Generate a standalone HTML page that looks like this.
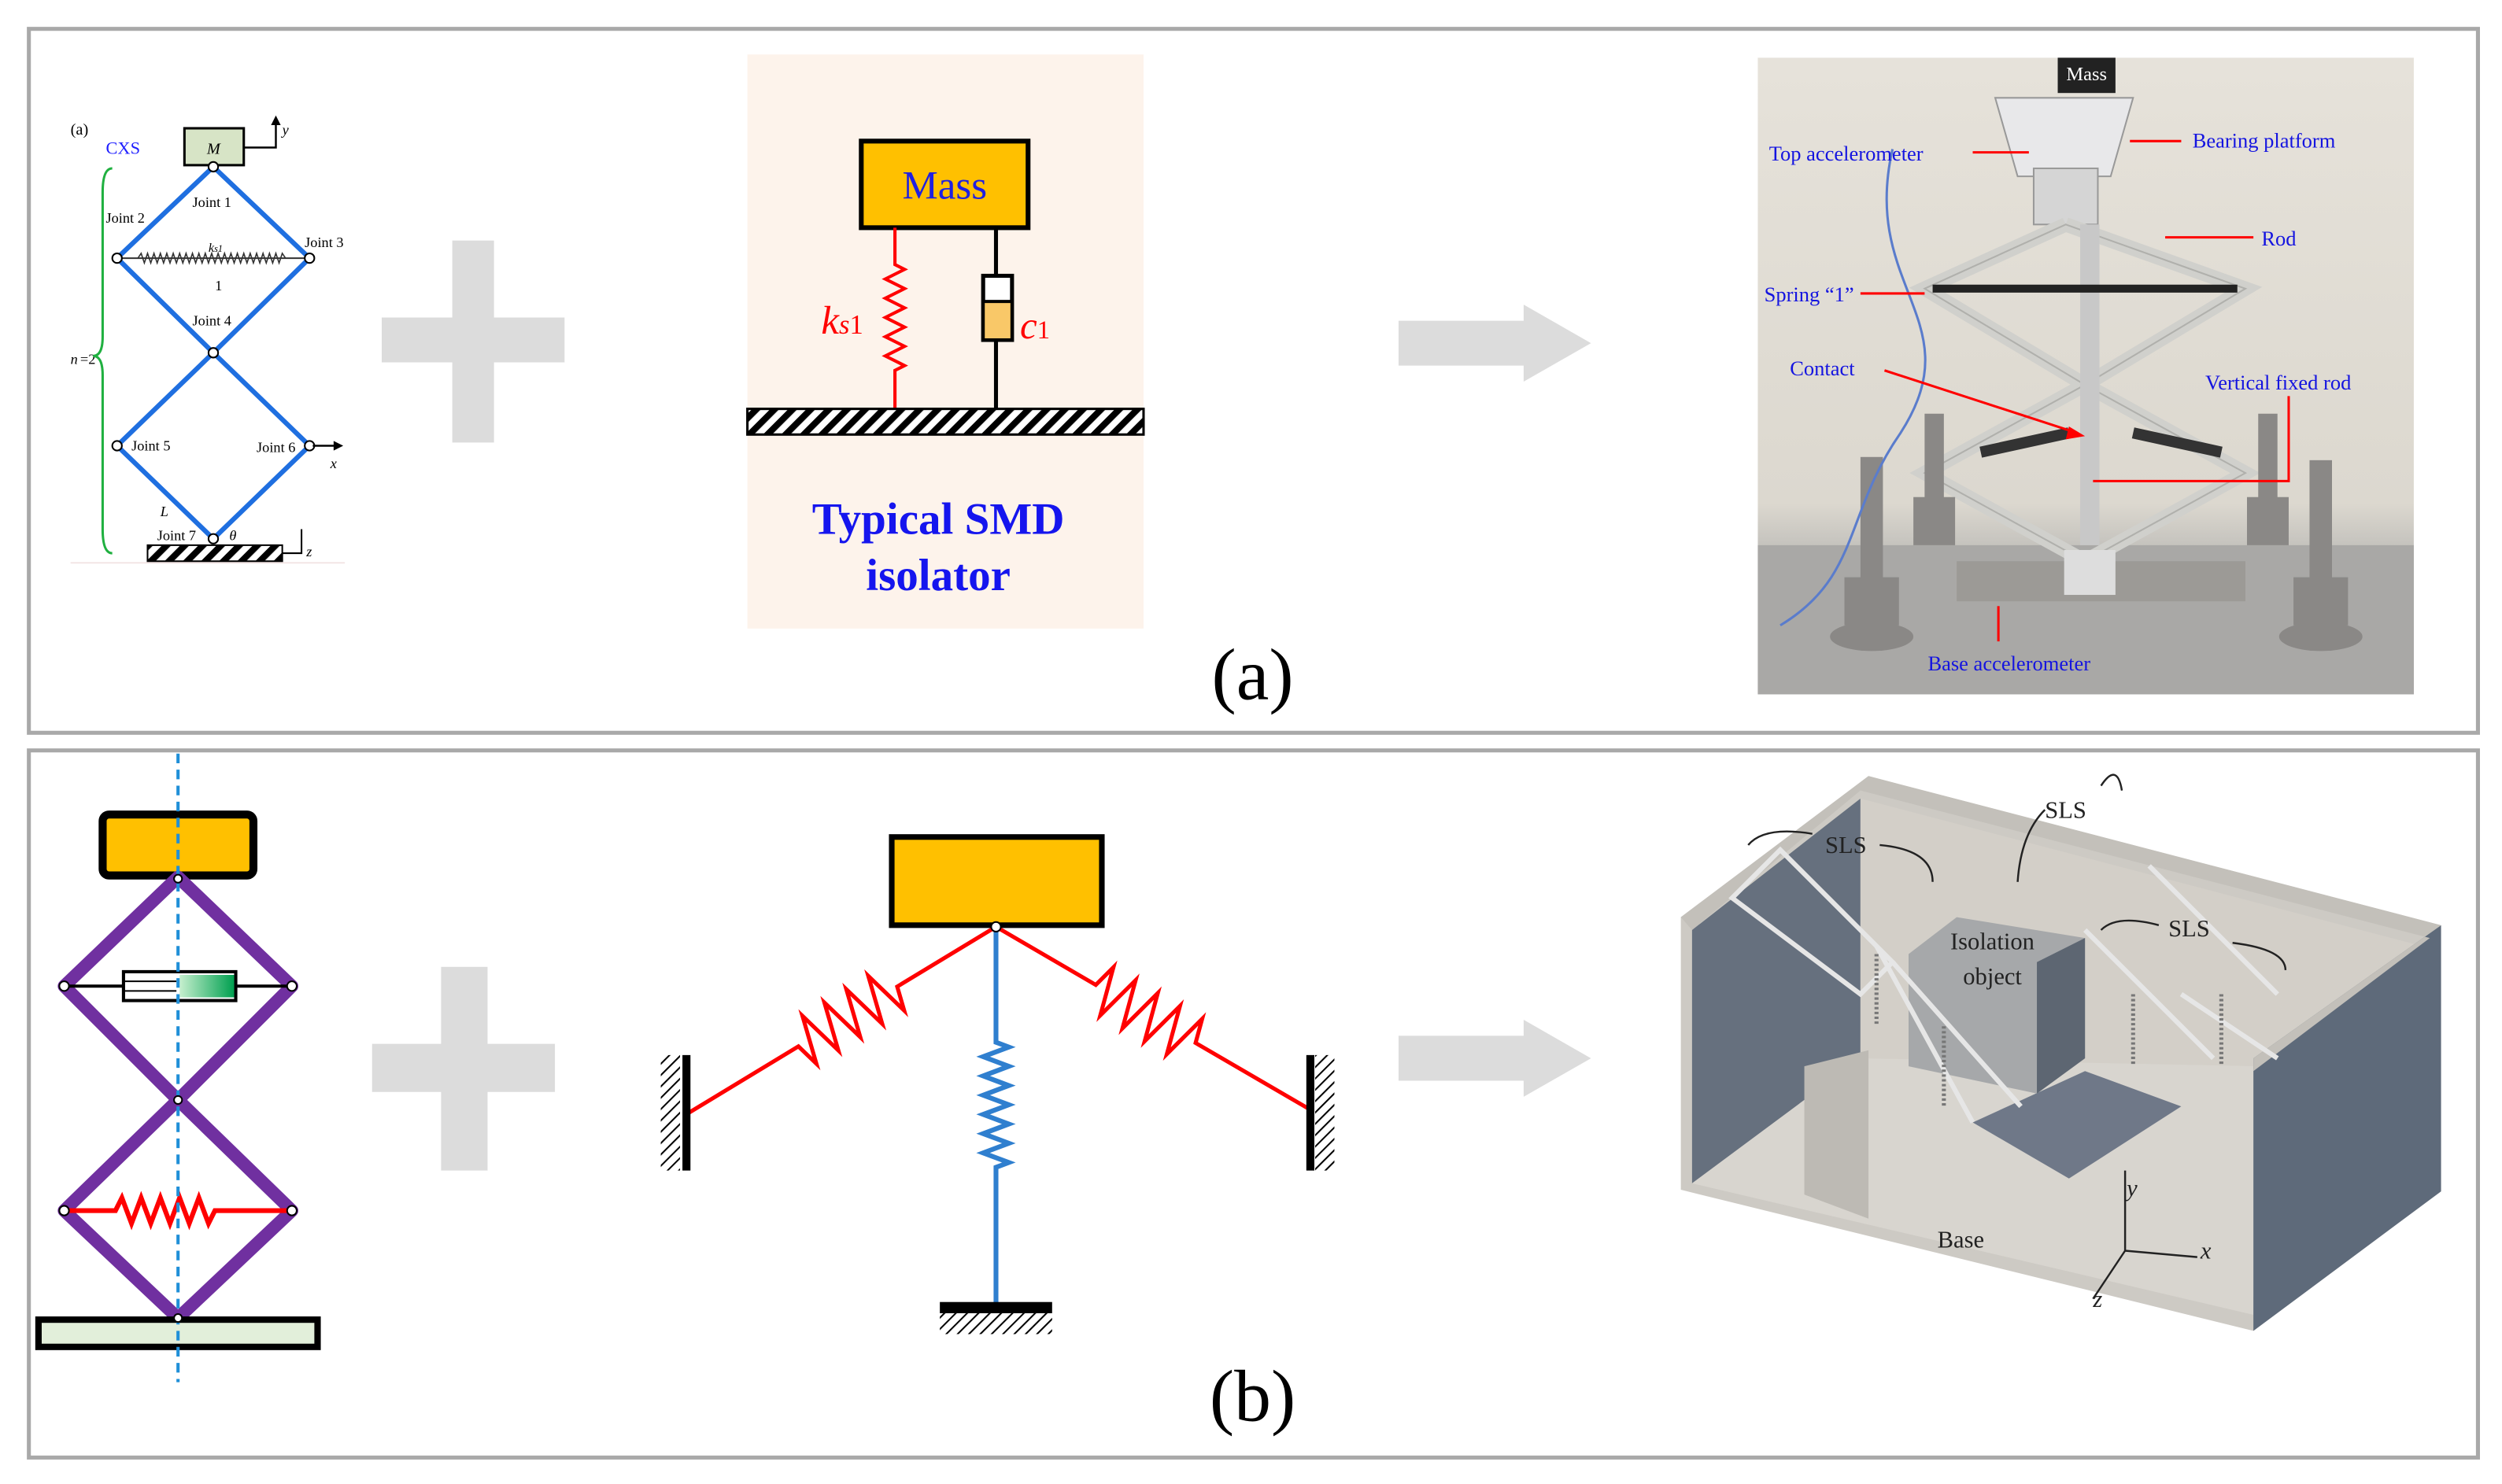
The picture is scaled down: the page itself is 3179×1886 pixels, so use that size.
<!DOCTYPE html>
<html><head><meta charset="utf-8"><style>
html,body{margin:0;padding:0;background:#fff}
svg{display:block}
text{font-family:"Liberation Serif",serif}
</style></head><body>
<svg width="3179" height="1886" viewBox="0 0 1560 925.5" preserveAspectRatio="none" xmlns="http://www.w3.org/2000/svg">
<defs>
<pattern id="hatch" width="8" height="8" patternUnits="userSpaceOnUse" patternTransform="rotate(45)">
<rect width="8" height="8" fill="#fff"/><rect width="4" height="8" fill="#000"/></pattern>
<pattern id="hatch2" width="5" height="5" patternUnits="userSpaceOnUse" patternTransform="rotate(45)">
<rect width="5" height="5" fill="#fff"/><rect width="1" height="5" fill="#000"/></pattern>
<linearGradient id="grn" x1="0" x2="1"><stop offset="0" stop-color="#c6efce"/><stop offset="1" stop-color="#00a050"/></linearGradient>
<linearGradient id="photo" x1="0" y1="0" x2="0" y2="1"><stop offset="0" stop-color="#e6e2da"/><stop offset="0.7" stop-color="#dcd8cf"/><stop offset="0.8" stop-color="#b9b8b5"/><stop offset="1" stop-color="#a5a5a5"/></linearGradient>
</defs>
<rect width="1560" height="925.5" fill="#fff"/>
<rect x="18" y="18" width="1527" height="439" fill="none" stroke="#a9a9a9" stroke-width="2.5"/>
<rect x="18" y="468" width="1527" height="441" fill="none" stroke="#a9a9a9" stroke-width="2.5"/>

<!-- CXS diagram -->
<text x="44" y="84" font-size="10">(a)</text>
<text x="66" y="96" font-size="11" fill="#2020ff">CXS</text>
<rect x="115" y="80" width="37" height="23" fill="#d7e4c6" stroke="#000" stroke-width="1.5"/>
<text x="129" y="96" font-size="10" font-style="italic">M</text>
<path d="M152 92 H172 V74" fill="none" stroke="#000" stroke-width="1.2"/>
<path d="M169 78 L172 72 L175 78Z" fill="#000"/>
<text x="176" y="84" font-size="9" font-style="italic">y</text>
<g fill="none" stroke="#1f6fe0" stroke-width="3">
<path d="M133 104 L73 161 L133 220 L193 161 Z"/>
<path d="M133 220 L73 278 L133 336 L193 278 Z"/>
</g>
<path d="M73 161 H193" stroke="#333" stroke-width="1"/>
<path d="M86 161 l2 -3 l2 6 l2 -6 l2 6 l2 -6 l2 6 l2 -6 l2 6 l2 -6 l2 6 l2 -6 l2 6 l2 -6 l2 6 l2 -6 l2 6 l2 -6 l2 6 l2 -6 l2 6 l2 -6 l2 6 l2 -6 l2 6 l2 -6 l2 6 l2 -6 l2 6 l2 -6 l2 6 l2 -6 l2 6 l2 -6 l2 6 l2 -6 l2 6 l2 -6 l2 6 l2 -6 l2 6 l2 -6 l2 6 l2 -6 l2 6 l2 -6 l2 3" fill="none" stroke="#333" stroke-width="0.8"/>
<g fill="#fff" stroke="#000" stroke-width="1"><circle cx="133" cy="104" r="3"/><circle cx="73" cy="161" r="3"/><circle cx="193" cy="161" r="3"/><circle cx="133" cy="220" r="3"/><circle cx="73" cy="278" r="3"/><circle cx="193" cy="278" r="3"/><circle cx="133" cy="336" r="3"/></g>
<g font-size="9"><text x="120" y="129">Joint 1</text><text x="66" y="139">Joint 2</text><text x="190" y="154">Joint 3</text><text x="130" y="157" font-style="italic" font-size="8">k<tspan font-size="6">s1</tspan></text><text x="134" y="181">1</text><text x="120" y="203">Joint 4</text><text x="82" y="281">Joint 5</text><text x="160" y="282">Joint 6</text><text x="100" y="322" font-style="italic">L</text><text x="98" y="337">Joint 7</text><text x="143" y="337" font-style="italic">θ</text><text x="44" y="227" font-style="italic">n</text><text x="50" y="227">=2</text><text x="206" y="292" font-style="italic">x</text><text x="191" y="347" font-style="italic">z</text></g>
<path d="M195 278 H212" stroke="#000" stroke-width="1.2"/><path d="M208 275 L214 278 L208 281Z"/>
<rect x="92" y="340" width="84" height="10" fill="url(#hatch)" stroke="#000"/>
<path d="M176 345 H188 V330" stroke="#000" fill="none"/>
<path d="M70 105 Q64 105 64 120 V210 Q64 222 58 222 Q64 222 64 234 V330 Q64 345 70 345" fill="none" stroke="#20b040" stroke-width="1.5"/>
<path d="M44 351 H215" stroke="#f0e0e0" stroke-width="0.8"/>

<!-- plus top -->
<g fill="#dcdcdc"><rect x="282" y="150" width="26" height="126"/><rect x="238" y="198" width="114" height="28"/></g>

<!-- SMD -->
<rect x="466" y="34" width="247" height="358" fill="#fdf3eb"/>
<rect x="537" y="88" width="104" height="54" fill="#ffc000" stroke="#000" stroke-width="3"/>
<text x="589" y="124" font-size="25" fill="#2020e0" text-anchor="middle">Mass</text>
<path d="M558 142 V165 l6 3 l-12 6 l12 6 l-12 6 l12 6 l-12 6 l12 6 l-12 6 l12 6 l-12 6 l12 6 l-6 3 V255" fill="none" stroke="#ff0000" stroke-width="2"/>
<path d="M621 142 V255" stroke="#000" stroke-width="2.5"/>
<rect x="613" y="172" width="18" height="40" fill="#fff" stroke="#000" stroke-width="2.5"/>
<rect x="614" y="188" width="16" height="23" fill="#f9c868"/>
<path d="M613 188 H631" stroke="#000" stroke-width="2"/>
<rect x="466" y="255" width="247" height="16" fill="url(#hatch)" stroke="#000" stroke-width="1.5"/>
<text x="512" y="208" font-size="25" fill="#ff0000" font-style="italic">k<tspan font-size="17">s</tspan><tspan font-size="17" font-style="normal">1</tspan></text>
<text x="636" y="211" font-size="24" fill="#ff0000" font-style="italic">c<tspan font-size="16" font-style="normal">1</tspan></text>
<text x="585" y="333" font-size="28" font-weight="bold" fill="#1515ee" text-anchor="middle">Typical SMD</text>
<text x="585" y="368" font-size="28" font-weight="bold" fill="#1515ee" text-anchor="middle">isolator</text>

<!-- arrows -->
<path d="M872 200 H950 V190 L992 214 L950 238 V228 H872Z" fill="#dcdcdc"/>
<path d="M872 646 H950 V636 L992 660 L950 684 V674 H872Z" fill="#dcdcdc"/>
<text x="781" y="436" font-size="46" text-anchor="middle">(a)</text>
<text x="781" y="886" font-size="46" text-anchor="middle">(b)</text>

<!-- photo -->
<rect x="1096" y="36" width="409" height="397" fill="url(#photo)"/>
<rect x="1096" y="340" width="409" height="93" fill="#a9a8a6"/>
<rect x="1283" y="36" width="36" height="22" fill="#222"/>
<text x="1301" y="50" font-size="12" fill="#fff" text-anchor="middle">Mass</text>
<path d="M1244 61 H1330 L1316 110 H1258Z" fill="#e8e8ea" stroke="#999"/>
<rect x="1268" y="105" width="40" height="35" fill="#d5d5d5" stroke="#999"/>
<g stroke="#d0d0cc" stroke-width="9" fill="none"><path d="M1288 140 L1200 180 L1300 240 L1200 295 L1300 350"/><path d="M1288 140 L1400 180 L1300 240 L1400 295 L1300 350"/></g>
<g stroke="#b0b0ac" stroke-width="1" fill="none"><path d="M1288 140 L1200 180 L1300 240 L1200 295 L1300 350"/><path d="M1288 140 L1400 180 L1300 240 L1400 295 L1300 350"/></g>
<rect x="1297" y="140" width="12" height="200" fill="#c8c8c8"/>
<path d="M1205 180 H1395" stroke="#222" stroke-width="5"/>
<path d="M1235 282 L1290 270 M1330 270 L1385 282" stroke="#333" stroke-width="7"/>
<g fill="#8a8886"><rect x="1160" y="285" width="14" height="95"/><rect x="1150" y="360" width="34" height="30"/><ellipse cx="1167" cy="397" rx="26" ry="9"/><rect x="1200" y="258" width="12" height="80"/><rect x="1193" y="310" width="26" height="30"/><rect x="1408" y="258" width="12" height="80"/><rect x="1401" y="310" width="26" height="30"/><rect x="1440" y="287" width="14" height="95"/><rect x="1430" y="360" width="34" height="30"/><ellipse cx="1447" cy="397" rx="26" ry="9"/></g>
<rect x="1220" y="350" width="180" height="25" fill="#9c9a96"/>
<rect x="1287" y="343" width="32" height="28" fill="#ddd"/>
<path d="M1180 93 C1160 180 1230 200 1185 270 C1150 320 1160 360 1110 390" fill="none" stroke="#5a7ccc" stroke-width="1.5"/>
<g font-size="13" fill="#1414e0"><text x="1103" y="100">Top accelerometer</text><text x="1367" y="92">Bearing platform</text><text x="1410" y="153">Rod</text><text x="1100" y="188">Spring “1”</text><text x="1116" y="234">Contact</text><text x="1375" y="243">Vertical fixed rod</text><text x="1202" y="418">Base accelerometer</text></g>
<g stroke="#ff0000" stroke-width="1.5" fill="none"><path d="M1230 95 H1265"/><path d="M1328 88 H1360"/><path d="M1350 148 H1405"/><path d="M1160 183 H1200"/><path d="M1175 231 L1295 270"/><path d="M1427 247 V300 H1305"/><path d="M1246 400 V378"/></g>
<path d="M1290 266 L1300 272 L1288 274Z" fill="#f00"/>

<!-- bottom-left scissor -->
<rect x="64" y="508" width="94" height="38" rx="4" fill="#ffc000" stroke="#000" stroke-width="5"/>
<g fill="none" stroke="#7030a0" stroke-width="8" stroke-linejoin="round"><path d="M111 547 L40 615 L111 686 L182 615Z"/><path d="M111 686 L40 755 L111 822 L182 755Z"/></g>
<path d="M40 615 H182" stroke="#000" stroke-width="2"/>
<rect x="77" y="606" width="70" height="18" fill="#fff" stroke="#000" stroke-width="2"/>
<rect x="112" y="608" width="34" height="14" fill="url(#grn)"/>
<path d="M77 612 H110 M77 618 H110" stroke="#000" stroke-width="1"/>
<path d="M42 755 H72 l4 -8 l6 16 l6 -16 l6 16 l6 -16 l6 16 l6 -16 l6 16 l6 -16 l6 16 l4 -8 H180" fill="none" stroke="#ff0000" stroke-width="3"/>
<rect x="24" y="823" width="174" height="17" fill="#e2efda" stroke="#000" stroke-width="4"/>
<path d="M111 470 V862" stroke="#1f8fd8" stroke-width="2" stroke-dasharray="6,4"/>
<g fill="#fff" stroke="#000" stroke-width="1"><circle cx="111" cy="548" r="2.5"/><circle cx="40" cy="615" r="3"/><circle cx="182" cy="615" r="3"/><circle cx="111" cy="686" r="2.5"/><circle cx="40" cy="755" r="3"/><circle cx="182" cy="755" r="3"/><circle cx="111" cy="822" r="2.5"/></g>

<!-- plus bottom -->
<g fill="#dcdcdc"><rect x="275" y="603" width="29" height="127"/><rect x="232" y="651" width="114" height="30"/></g>

<!-- spring network -->
<rect x="556" y="522" width="131" height="55" fill="#ffc000" stroke="#000" stroke-width="3.5"/>
<path d="M621 578 V650 l8 3 l-16 6 l16 6 l-16 6 l16 6 l-16 6 l16 6 l-16 6 l16 6 l-16 6 l16 6 l-16 6 l16 6 l-8 3 V815" fill="none" stroke="#2f7fcf" stroke-width="3"/>
<g transform="translate(621,578) rotate(148.8)" fill="none" stroke="#ff0000" stroke-width="2.5">
<path d="M0 0 H72 L76 -15 L84 15 L92 -15 L100 15 L108 -15 L116 15 L124 -15 L132 15 L140 -15 L144 0 H226"/>
</g>
<g transform="translate(621,578) rotate(30.2)" fill="none" stroke="#ff0000" stroke-width="2.5">
<path d="M0 0 H72 L76 -15 L84 15 L92 -15 L100 15 L108 -15 L116 15 L124 -15 L132 15 L140 -15 L144 0 H227"/>
</g>
<rect x="412" y="658" width="12" height="72" fill="url(#hatch2)"/>
<path d="M428 658 V730" stroke="#000" stroke-width="5"/>
<rect x="820" y="658" width="12" height="72" fill="url(#hatch2)"/>
<path d="M817 658 V730" stroke="#000" stroke-width="5"/>
<rect x="586" y="812" width="70" height="7" fill="#000"/>
<rect x="586" y="819" width="70" height="13" fill="url(#hatch2)"/>
<circle cx="621" cy="578" r="3" fill="#fff" stroke="#000"/>

<!-- 3D render -->
<path d="M1048 572 L1165 484 L1522 577 L1522 743 L1405 830 L1048 742Z" fill="#cdcac4"/>
<path d="M1055 580 L1160 498 L1160 660 L1055 738Z" fill="#66707e"/>
<path d="M1160 498 L1510 590 L1410 665 L1160 665Z" fill="#d3cfc8"/>
<path d="M1055 738 L1160 660 L1410 665 L1405 820Z" fill="#d8d5cf"/>
<path d="M1405 660 L1522 577 L1522 743 L1405 830Z" fill="#5e6a7a"/>
<path d="M1048 572 L1165 484 L1522 577 L1405 660 L1405 668 L1515 585 L1160 493 L1055 580Z" fill="#c3c0ba"/>
<path d="M1230 700 L1300 668 L1360 690 L1290 735Z" fill="#6f7888"/>
<path d="M1190 595 L1220 572 L1300 585 L1300 660 L1270 682 L1190 665Z" fill="#a6a8aa"/>
<path d="M1270 600 L1300 585 L1300 660 L1270 682Z" fill="#5d6672"/>
<path d="M1125 665 L1165 655 L1165 760 L1125 745Z" fill="#bdbab4"/>
<g stroke="#e6e6e6" stroke-width="3" fill="none"><path d="M1080 560 L1110 530 L1180 600 L1160 620 L1080 560Z"/><path d="M1170 590 L1230 700 M1260 690 L1180 600 M1300 580 L1380 660 M1340 540 L1420 620 M1360 620 L1420 660"/></g>
<g stroke="#777" stroke-width="2.5" stroke-dasharray="1.5,1.5"><path d="M1170 595 V640"/><path d="M1212 640 V690"/><path d="M1330 620 V665"/><path d="M1385 620 V665"/></g>
<g font-size="15" fill="#222"><text x="1138" y="532">SLS</text><text x="1275" y="510">SLS</text><text x="1352" y="584">SLS</text><text x="1216" y="592">Isolation</text><text x="1224" y="614">object</text><text x="1208" y="778">Base</text><text x="1326" y="746" font-style="italic">y</text><text x="1372" y="785" font-style="italic">x</text><text x="1305" y="815" font-style="italic">z</text></g>
<g stroke="#222" stroke-width="1.2" fill="none"><path d="M1130 520 Q1100 515 1090 527"/><path d="M1172 527 Q1205 530 1205 550"/><path d="M1275 505 Q1260 520 1258 550"/><path d="M1310 490 Q1320 475 1323 493"/><path d="M1346 577 Q1320 570 1310 580"/><path d="M1392 588 Q1425 592 1425 605"/><path d="M1325 780 V730 M1325 780 L1370 784 M1325 780 L1305 810"/></g>
</svg>
</body></html>
